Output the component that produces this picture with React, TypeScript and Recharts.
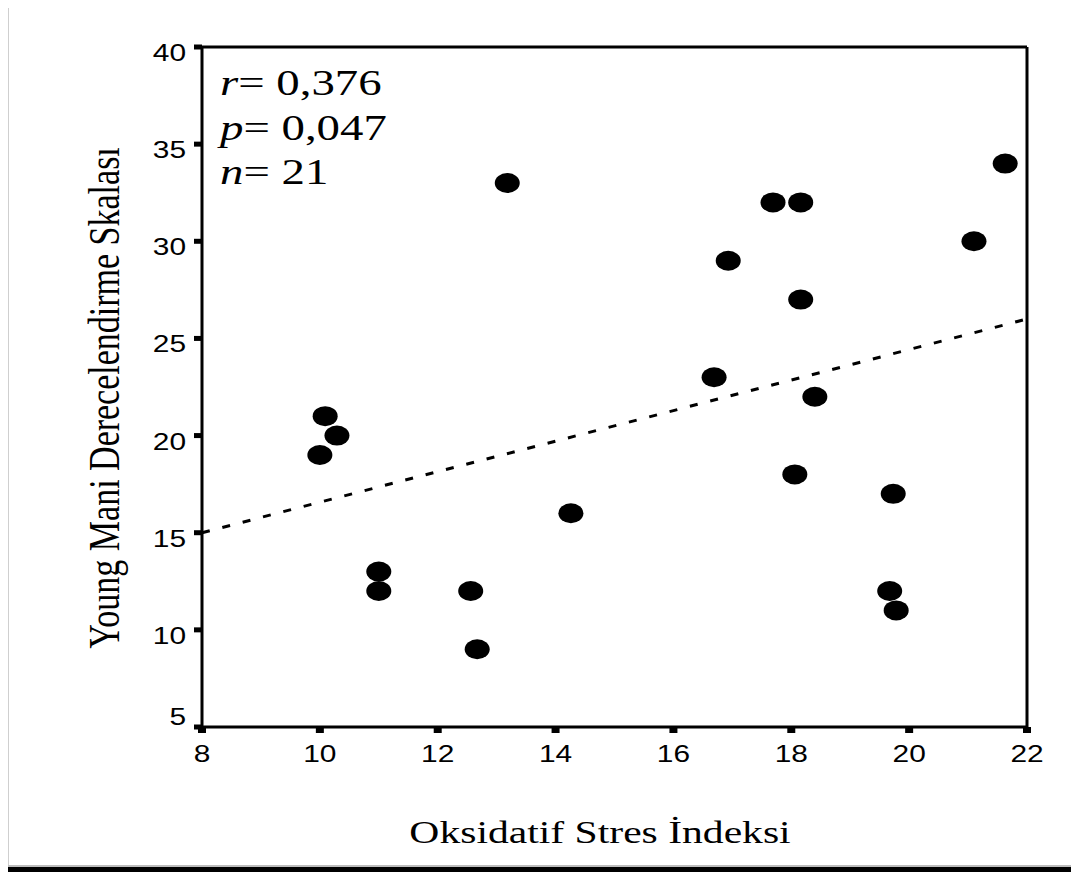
import React from "react";
import {
  ScatterChart,
  Scatter,
  XAxis,
  YAxis,
  ReferenceLine,
} from "recharts";

// Oksidatif Stres İndeksi (x) vs Young Mani Derecelendirme Skalası (y)
const osiValues = [
  10.0, 10.09, 10.29, 11.0, 11.0, 12.56, 12.67, 13.18, 14.26, 16.69, 16.93,
  17.69, 18.16, 18.16, 18.4, 18.06, 19.73, 19.67, 19.78, 21.1, 21.63,
];
const ymrsValues = [
  19, 21, 20, 13, 12, 12, 9, 33, 16, 23, 29, 32, 32, 27, 22, 18, 17, 12, 11, 30,
  34,
];

const xTicks = [8, 10, 12, 14, 16, 18, 20, 22];
const yTicks = [5, 10, 15, 20, 25, 30, 35, 40];

// fit line end points
const fitX = [8, 22];
const fitY = [15, 26];

const statLines = [
  { sym: "r", val: "= 0,376" },
  { sym: "p", val: "= 0,047" },
  { sym: "n", val: "= 21" },
];

const points = osiValues.map((x, i) => ({ x, y: ymrsValues[i] }));

const STRETCH = 1.3;
const SANS = "'Liberation Sans', Arial, sans-serif";
const SERIF = "'Liberation Serif', 'Times New Roman', serif";

const Dot = (props: any) => {
  const { cx, cy } = props;
  if (cx == null || cy == null) return null;
  return <ellipse cx={cx} cy={cy} rx={12.5} ry={10} fill="#000" />;
};

const YTick = (props: any) => {
  const { x, y, payload } = props;
  const dy = payload.value === 5 ? -2 : 14;
  return (
    <text
      transform={`translate(${x},${y + dy}) scale(${STRETCH},1)`}
      textAnchor="end"
      fontSize={23}
      fontFamily={SANS}
      fill="#000"
    >
      {payload.value}
    </text>
  );
};

const XTick = (props: any) => {
  const { x, y, payload } = props;
  return (
    <text
      transform={`translate(${x},${y + 27}) scale(${STRETCH},1)`}
      textAnchor="middle"
      fontSize={23}
      fontFamily={SANS}
      fill="#000"
    >
      {payload.value}
    </text>
  );
};

export default function App() {
  return (
    <div
      style={{
        position: "relative",
        width: 1079,
        height: 880,
        margin: -8,
        background: "#fff",
        overflow: "hidden",
      }}
    >
      <div
        style={{
          position: "absolute",
          left: 8,
          top: 0,
          width: 1,
          height: 866,
          background: "#cfcfcf",
        }}
      />
      <div
        style={{
          position: "absolute",
          left: 8,
          top: 865,
          width: 1071,
          height: 2,
          background: "#bdbdbd",
        }}
      />
      <div
        style={{
          position: "absolute",
          left: 8,
          top: 867,
          width: 1071,
          height: 13,
          background: "#000",
        }}
      />
      <div style={{ position: "absolute", left: 0, top: 0 }}>
        <ScatterChart
          width={1079}
          height={880}
          margin={{ top: 47, right: 52, bottom: 113, left: 122 }}
        >
          <XAxis
            type="number"
            dataKey="x"
            domain={[8, 22]}
            ticks={xTicks}
            height={40}
            axisLine={{ stroke: "#000", strokeWidth: 3 }}
            tickLine={{ stroke: "#000", strokeWidth: 8 }}
            tickSize={6}
            tickMargin={2}
            tick={<XTick />}
            allowDataOverflow
          />
          <YAxis
            type="number"
            dataKey="y"
            domain={[5, 40]}
            ticks={yTicks}
            width={80}
            axisLine={{ stroke: "#000", strokeWidth: 3 }}
            tickLine={{ stroke: "#000", strokeWidth: 5 }}
            tickSize={8}
            tickMargin={8}
            tick={<YTick />}
            allowDataOverflow
          />
          <ReferenceLine y={40} stroke="#000" strokeWidth={3} />
          <ReferenceLine x={22} stroke="#000" strokeWidth={3} />
          <ReferenceLine
            segment={[
              { x: fitX[0], y: fitY[0] },
              { x: fitX[1], y: fitY[1] },
            ]}
            stroke="#000"
            strokeWidth={3}
            strokeDasharray="8 13"
          />
          <Scatter
            data={points}
            fill="#000"
            shape={<Dot />}
            isAnimationActive={false}
          />
        </ScatterChart>
      </div>
      <svg
        width={1079}
        height={880}
        style={{ position: "absolute", left: 0, top: 0, pointerEvents: "none" }}
      >
        <text
          transform={`translate(119,398) scale(${STRETCH},1) rotate(-90)`}
          textAnchor="middle"
          fontSize={34}
          fontFamily={SERIF}
          fill="#000"
        >
          Young Mani Derecelendirme Skalası
        </text>
        <text
          transform={`translate(600,843) scale(${STRETCH},1)`}
          textAnchor="middle"
          fontSize={32}
          fontFamily={SERIF}
          fill="#000"
        >
          Oksidatif Stres İndeksi
        </text>
        {statLines.map((s, i) => (
          <text
            key={s.sym}
            transform={`translate(220,${95 + i * 44.5}) scale(${STRETCH},1)`}
            fontSize={36}
            fontFamily={SERIF}
            fill="#000"
          >
            <tspan fontStyle="italic">{s.sym}</tspan>
            <tspan>{s.val}</tspan>
          </text>
        ))}
      </svg>
    </div>
  );
}
